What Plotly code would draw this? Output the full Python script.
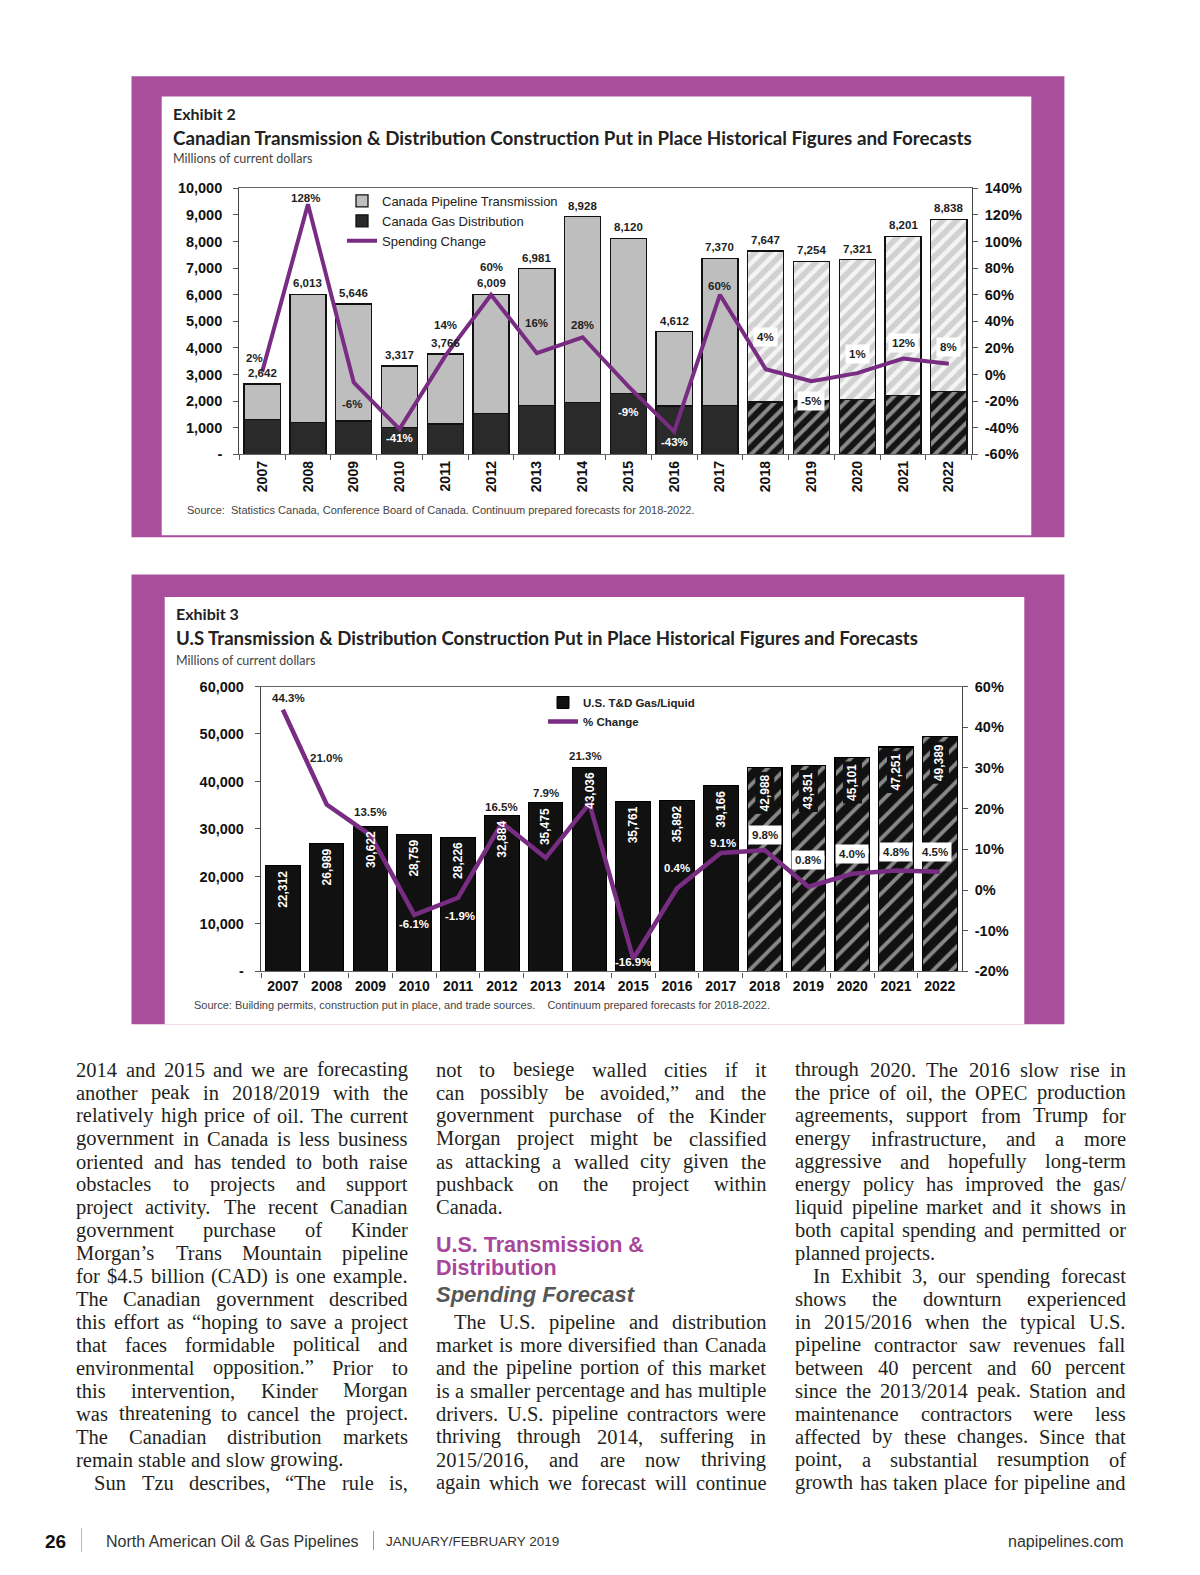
import plotly.graph_objects as go

W, H = 1200, 1575
def px(x): return x / W
def py(y): return 1 - y / H

# ---------------- data ----------------
years = ["2007", "2008", "2009", "2010", "2011", "2012", "2013", "2014",
         "2015", "2016", "2017", "2018", "2019", "2020", "2021", "2022"]
is_forecast = [False] * 11 + [True] * 5

# Exhibit 2 - Canada (millions of current dollars)
ca_total = [2642, 6013, 5646, 3317, 3766, 6009, 6981, 8928,
            8120, 4612, 7370, 7647, 7254, 7321, 8201, 8838]
ca_gas = [1300, 1200, 1250, 1000, 1140, 1530, 1840, 1950,
          2280, 1820, 1840, 1970, 2000, 2070, 2220, 2350]
ca_change = [2, 128, -6, -41, 14, 60, 16, 28, -9, -43, 60, 4, -5, 1, 12, 8]

ca_left_ticks = [0, 1000, 2000, 3000, 4000, 5000, 6000, 7000, 8000, 9000, 10000]
ca_left_text = ["-", "1,000", "2,000", "3,000", "4,000", "5,000", "6,000",
                "7,000", "8,000", "9,000", "10,000"]
ca_right_ticks = [-60, -40, -20, 0, 20, 40, 60, 80, 100, 120, 140]
ca_right_text = ["-60%", "-40%", "-20%", "0%", "20%", "40%", "60%", "80%",
                 "100%", "120%", "140%"]

# Exhibit 3 - U.S.
us_total = [22312, 26989, 30622, 28759, 28226, 32884, 35475, 43036,
            35761, 35892, 39166, 42988, 43351, 45101, 47251, 49389]
us_change = [44.3, 21.0, 13.5, -6.1, -1.9, 16.5, 7.9, 21.3,
             -16.9, 0.4, 9.1, 9.8, 0.8, 4.0, 4.8, 4.5]

us_left_ticks = [0, 10000, 20000, 30000, 40000, 50000, 60000]
us_left_text = ["-", "10,000", "20,000", "30,000", "40,000", "50,000", "60,000"]
us_right_ticks = [-20, -10, 0, 10, 20, 30, 40, 50]
us_right_text = ["-20%", "-10%", "0%", "10%", "20%", "30%", "40%", "60%"]

# label placement (pixel offsets) and styles
ca_pct_shift = [(-8, 14), (-2, 6), (-2, -22), (0, -9), (0, 31), (0, 28), (0, 30), (0, 12),
                (0, -26), (0, -10), (0, 9), (0, 32), (0, -20), (0, 19), (0, 16), (0, 17)]
ca_pct_style = ["plain", "plain", "plain", "dark", "plain", "plain", "plain", "plain",
                "dark", "dark", "plain", "box", "box", "box", "box", "box"]
us_pct_shift = [(6, 12), (0, 47), (0, 23), (0, -9), (2, -18), (0, 16), (0, 65), (-4, 47),
                (0, -3), (0, 20), (2, 10), (0, 15), (0, 27), (0, 20), (0, 18), (-5, 20)]
us_pct_style = ["plain", "plain", "plain", "dark", "dark", "plain", "plain", "plain",
                "dark", "dark", "dark", "box", "box", "box", "box", "box"]

# ---------------- body text ----------------
col1 = [
    ("2014 and 2015 and we are forecasting", "j"),
    ("another peak in 2018/2019 with the", "j"),
    ("relatively high price of oil. The current", "j"),
    ("government in Canada is less business", "j"),
    ("oriented and has tended to both raise", "j"),
    ("obstacles to projects and support", "j"),
    ("project activity. The recent Canadian", "j"),
    ("government purchase of Kinder", "j"),
    ("Morgan’s Trans Mountain pipeline", "j"),
    ("for $4.5 billion (CAD) is one example.", "j"),
    ("The Canadian government described", "j"),
    ("this effort as “hoping to save a project", "j"),
    ("that faces formidable political and", "j"),
    ("environmental opposition.” Prior to", "j"),
    ("this intervention, Kinder Morgan", "j"),
    ("was threatening to cancel the project.", "j"),
    ("The Canadian distribution markets", "j"),
    ("remain stable and slow growing.", "l"),
    ("Sun Tzu describes, “The rule is,", "ij"),
]
col2a = [
    ("not to besiege walled cities if it", "j"),
    ("can possibly be avoided,” and the", "j"),
    ("government purchase of the Kinder", "j"),
    ("Morgan project might be classified", "j"),
    ("as attacking a walled city given the", "j"),
    ("pushback on the project within", "j"),
    ("Canada.", "l"),
]
col2b = [
    ("The U.S. pipeline and distribution", "ij"),
    ("market is more diversified than Canada", "j"),
    ("and the pipeline portion of this market", "j"),
    ("is a smaller percentage and has multiple", "j"),
    ("drivers. U.S. pipeline contractors were", "j"),
    ("thriving through 2014, suffering in", "j"),
    ("2015/2016, and are now thriving", "j"),
    ("again which we forecast will continue", "j"),
]
col3 = [
    ("through 2020. The 2016 slow rise in", "j"),
    ("the price of oil, the OPEC production", "j"),
    ("agreements, support from Trump for", "j"),
    ("energy infrastructure, and a more", "j"),
    ("aggressive and hopefully long-term", "j"),
    ("energy policy has improved the gas/", "j"),
    ("liquid pipeline market and it shows in", "j"),
    ("both capital spending and permitted or", "j"),
    ("planned projects.", "l"),
    ("In Exhibit 3, our spending forecast", "ij"),
    ("shows the downturn experienced", "j"),
    ("in 2015/2016 when the typical U.S.", "j"),
    ("pipeline contractor saw revenues fall", "j"),
    ("between 40 percent and 60 percent", "j"),
    ("since the 2013/2014 peak. Station and", "j"),
    ("maintenance contractors were less", "j"),
    ("affected by these changes. Since that", "j"),
    ("point, a substantial resumption of", "j"),
    ("growth has taken place for pipeline and", "j"),
]

# ---------------- styling ----------------
SANS = "Liberation Sans, Arial, Helvetica, sans-serif"
SERIF = "Liberation Serif, Times New Roman, serif"
TFONT = "Lato, Carlito, Calibri, sans-serif"
FRAME = "#A84E9B"
LINE = "#782C82"
INK = "#1E1E1E"

def hist(vals):
    return [v for v, f in zip(vals, is_forecast) if not f]

def fcst(vals):
    return [v for v, f in zip(vals, is_forecast) if f]

ca_pipe = [t - g for t, g in zip(ca_total, ca_gas)]
idx = list(range(len(years)))  # category positions used by annotations

fig = go.Figure()

OUT = dict(color="#111111", width=1.3)
# Exhibit 2 bars (gas at the bottom of each stack)
fig.add_trace(go.Bar(
    x=hist(years), y=hist(ca_gas), name="Canada Gas Distribution", uid="ca_gas_h",
    xaxis="x", yaxis="y", legend="legend", legendrank=2,
    marker=dict(color="#2A2A2A", line=OUT), hoverinfo="skip"))
fig.add_trace(go.Bar(
    x=fcst(years), y=fcst(ca_gas), name="Canada Gas Distribution (forecast)", uid="ca_gas_f",
    xaxis="x", yaxis="y", legend="legend", showlegend=False,
    marker=dict(color="#141414", line=OUT,
                pattern=dict(shape="/", bgcolor="#141414", fgcolor="#FFFFFF",
                             size=10, solidity=0.4)),
    hoverinfo="skip"))
fig.add_trace(go.Bar(
    x=hist(years), y=hist(ca_pipe), name="Canada Pipeline Transmission", uid="ca_pipe_h",
    xaxis="x", yaxis="y", legend="legend", legendrank=1,
    marker=dict(color="#BEBEBE", line=OUT), hoverinfo="skip"))
fig.add_trace(go.Bar(
    x=fcst(years), y=fcst(ca_pipe), name="Canada Pipeline Transmission (forecast)", uid="ca_pipe_f",
    xaxis="x", yaxis="y", legend="legend", showlegend=False,
    marker=dict(color="#F4F4F4", line=OUT,
                pattern=dict(shape="/", bgcolor="#F4F4F4", fgcolor="#ADADAD",
                             size=10, solidity=0.55)),
    hoverinfo="skip"))
fig.add_trace(go.Scatter(
    x=years, y=ca_change, name="Spending Change", mode="lines", uid="ca_line",
    xaxis="x", yaxis="y2", legend="legend", legendrank=3,
    line=dict(color=LINE, width=4), hoverinfo="skip"))

# Exhibit 3 bars
fig.add_trace(go.Bar(
    x=hist(years), y=hist(us_total), name="U.S. T&D Gas/Liquid", uid="us_h",
    xaxis="x2", yaxis="y3", legend="legend2", legendrank=1,
    marker=dict(color="#111111", line=dict(color="#000000", width=1)), hoverinfo="skip"))
fig.add_trace(go.Bar(
    x=fcst(years), y=fcst(us_total), name="U.S. T&D Gas/Liquid (forecast)", uid="us_f",
    xaxis="x2", yaxis="y3", legend="legend2", showlegend=False,
    marker=dict(color="#111111", line=dict(color="#000000", width=1.2),
                pattern=dict(shape="/", bgcolor="#111111", fgcolor="#FFFFFF",
                             size=13, solidity=0.3)),
    hoverinfo="skip"))
fig.add_trace(go.Scatter(
    x=years, y=us_change, name="% Change", mode="lines", uid="us_line",
    xaxis="x2", yaxis="y4", legend="legend2", legendrank=2,
    line=dict(color=LINE, width=4.5), hoverinfo="skip"))

ann = []

def A(**kw):
    base = dict(showarrow=False, borderpad=0)
    base.update(kw)
    ann.append(base)

# Exhibit 2 value labels
for i, v in zip(idx, ca_total):
    A(x=i, y=v, xref="x", yref="y", yanchor="middle", yshift=11, text=f"{v:,}",
      font=dict(family=SANS, size=11.5, color=INK, weight="bold"))
for i, v, (dx, dy), st in zip(idx, ca_change, ca_pct_shift, ca_pct_style):
    A(x=i, y=v, xref="x", yref="y2", yanchor="middle", xshift=dx, yshift=dy,
      text=f"{v}%",
      font=dict(family=SANS, size=11.5, weight="bold",
                color="#FFFFFF" if st == "dark" else INK),
      bgcolor="#FFFFFF" if st == "box" else None, borderpad=3 if st == "box" else 0)

# Exhibit 3 value labels
for i, v, f in zip(idx, us_total, is_forecast):
    A(x=i, y=v, xref="x2", yref="y3", yanchor="top", yshift=-4, textangle=-90,
      text=f"{v:,}", font=dict(family=SANS, size=12, color="#FFFFFF", weight="bold"),
      bgcolor="#111111" if f else None, borderpad=2 if f else 0)
for i, v, (dx, dy), st in zip(idx, us_change, us_pct_shift, us_pct_style):
    A(x=i, y=v, xref="x2", yref="y4", yanchor="middle", xshift=dx, yshift=dy,
      text=f"{v:.1f}%",
      font=dict(family=SANS, size=11.5, weight="bold",
                color="#FFFFFF" if st == "dark" else INK),
      bgcolor="#FFFFFF" if st == "box" else None, borderpad=3 if st == "box" else 0)

# Titles / sources
def P(x, y, text, **font):
    A(x=px(x), y=py(y), xref="paper", yref="paper", xanchor="left", yanchor="middle",
      text=text, font=font)

P(171.5, 113, "Exhibit 2", family=TFONT, size=16, color="#222222", weight="bold")
P(171.5, 138, "Canadian Transmission &amp; Distribution Construction Put in Place Historical Figures and Forecasts",
  family=TFONT, size=18.8, color="#222222", weight="bold")
P(171.5, 159, "Millions of current dollars", family=TFONT, size=12.5, color="#444444")
P(185.5, 510, "Source:&nbsp;&nbsp;Statistics Canada, Conference Board of Canada. Continuum prepared forecasts for 2018-2022.",
  family=SANS, size=11, color="#444444")

P(174.5, 613, "Exhibit 3", family=TFONT, size=16, color="#222222", weight="bold")
P(174.5, 638, "U.S Transmission &amp; Distribution Construction Put in Place Historical Figures and Forecasts",
  family=TFONT, size=18.6, color="#222222", weight="bold")
P(174.5, 660, "Millions of current dollars", family=TFONT, size=12.5, color="#444444")
P(192.5, 1005, "Source: Building permits, construction put in place, and trade sources.&nbsp;&nbsp;&nbsp; Continuum prepared forecasts for 2018-2022.",
  family=SANS, size=11, color="#444444")

# Body text (justified word by word, Times metrics)
TW = {' ': 250, '!': 333, '$': 500, '%': 833, '&': 778, '(': 333, ')': 333, ',': 250,
      '-': 333, '.': 250, '/': 278, ':': 278, ';': 278, '?': 444,
      '’': 333, '‘': 333, '“': 444, '”': 444, "'": 180,
      'A': 722, 'B': 667, 'C': 667, 'D': 722, 'E': 611, 'F': 556, 'G': 722, 'H': 722,
      'I': 333, 'J': 389, 'K': 722, 'L': 611, 'M': 889, 'N': 722, 'O': 722, 'P': 556,
      'Q': 722, 'R': 667, 'S': 556, 'T': 611, 'U': 722, 'V': 722, 'W': 944, 'X': 722,
      'Y': 722, 'Z': 611,
      'a': 444, 'b': 500, 'c': 444, 'd': 500, 'e': 444, 'f': 333, 'g': 500, 'h': 500,
      'i': 278, 'j': 278, 'k': 500, 'l': 278, 'm': 778, 'n': 500, 'o': 500, 'p': 500,
      'q': 500, 'r': 333, 's': 389, 't': 278, 'u': 500, 'v': 500, 'w': 722, 'x': 500,
      'y': 500, 'z': 444}
BODY = 20.5
ROW0, ROWSTEP = 1069.8, 22.93
INDENT = 18

def tw(s):
    return sum(TW.get(c, 500) for c in s) / 1000 * BODY

def esc(s):
    return s.replace("&", "&amp;").replace("$", "&#36;")

def body(lines, left, right, row0):
    for i, (text, mode) in enumerate(lines):
        yy = ROW0 + ROWSTEP * (row0 + i)
        x0 = left + (INDENT if mode == "ij" else 0)
        words = text.split(" ")
        widths = [tw(w) for w in words]
        if mode == "l" or len(words) == 1:
            gap = tw(" ")
        else:
            gap = (right - x0 - sum(widths)) / (len(words) - 1)
        x = x0
        for w, wd in zip(words, widths):
            A(x=px(x), y=py(yy), xref="paper", yref="paper", xanchor="left",
              yanchor="middle", text=esc(w),
              font=dict(family=SERIF, size=BODY, color="#231F20"))
            x += wd + gap

body(col1, 75.3, 406.7, 0)
body(col2a, 434.8, 765.2, 0)
body(col2b, 434.8, 765.2, 11)
body(col3, 794.3, 1124.7, 0)

P(434.8, 1244.5, "U.S. Transmission &amp;", family=SANS, size=21.5, color="#A8469B", weight="bold")
P(434.8, 1267.5, "Distribution", family=SANS, size=21.5, color="#A8469B", weight="bold")
P(434.8, 1294, "Spending Forecast", family=SANS, size=22, color="#575757", weight="bold", style="italic")

# footer
P(44, 1541.5, "26", family=SANS, size=19, color="#111111", weight="bold")
P(105, 1541.5, "North American Oil &amp; Gas Pipelines", family=SANS, size=16, color="#333333")
P(385, 1541.5, "JANUARY/FEBRUARY 2019", family=SANS, size=13.5, color="#333333")
A(x=px(1124.7), y=py(1541.5), xref="paper", yref="paper", xanchor="right", yanchor="middle",
  text="napipelines.com", font=dict(family=SANS, size=16, color="#333333"))

shapes = [
    dict(type="rect", xref="paper", yref="paper", x0=px(131.5), x1=px(1064.4),
         y0=py(537.2), y1=py(76.3), fillcolor=FRAME, line=dict(width=0), layer="below"),
    dict(type="rect", xref="paper", yref="paper", x0=px(161.7), x1=px(1031.3),
         y0=py(535.2), y1=py(96.6), fillcolor="#FFFFFF", line=dict(width=0), layer="below"),
    dict(type="rect", xref="paper", yref="paper", x0=px(131.5), x1=px(1064.4),
         y0=py(1024.3), y1=py(574.4), fillcolor=FRAME, line=dict(width=0), layer="below"),
    dict(type="rect", xref="paper", yref="paper", x0=px(164.7), x1=px(1024.3),
         y0=py(1024.3), y1=py(597), fillcolor="#FFFFFF", line=dict(width=0), layer="below"),
    dict(type="line", xref="paper", yref="paper", x0=px(81.5), x1=px(81.5),
         y0=py(1528), y1=py(1552), line=dict(color="#BBBBBB", width=1)),
    dict(type="line", xref="paper", yref="paper", x0=px(373.5), x1=px(373.5),
         y0=py(1531), y1=py(1550), line=dict(color="#999999", width=1)),
]

axfont = dict(family=SANS, size=14.5, color="#111111", weight="bold")
cat_range = [-0.5, len(years) - 0.5]

fig.update_layout(
    width=W, height=H, autosize=False,
    margin=dict(l=0, r=0, t=0, b=0, pad=0, autoexpand=False),
    paper_bgcolor="#FFFFFF", plot_bgcolor="rgba(0,0,0,0)",
    barmode="stack", bargap=0.21,
    annotations=ann, shapes=shapes,
    showlegend=True,
    legend=dict(x=px(342), y=py(186), xanchor="left", yanchor="top",
                bgcolor="rgba(0,0,0,0)", traceorder="normal", tracegroupgap=0,
                font=dict(family=SANS, size=13, color="#222222")),
    legend2=dict(x=px(543), y=py(688), xanchor="left", yanchor="top",
                 bgcolor="rgba(0,0,0,0)", traceorder="normal", tracegroupgap=0,
                 font=dict(family=SANS, size=11.5, color="#222222", weight="bold")),
    xaxis=dict(domain=[px(239.3), px(971.7)], anchor="y", type="category",
               categoryorder="array", categoryarray=years, range=cat_range,
               tickangle=-90, tickfont=dict(family=SANS, size=14, color="#111111", weight="bold"),
               ticks="outside", tickson="boundaries", ticklen=5, tickcolor="#555555",
               showline=True, mirror=True, linecolor="#666666", linewidth=1.3,
               showgrid=False, zeroline=False, fixedrange=True),
    yaxis=dict(domain=[py(454.3), py(188.3)], anchor="x", range=[0, 10000],
               tickvals=ca_left_ticks, ticktext=ca_left_text, tickfont=axfont,
               ticks="outside", ticklen=5, tickcolor="#555555", ticklabelstandoff=8,
               showline=True, linecolor="#444444", linewidth=1.3,
               showgrid=False, zeroline=False, fixedrange=True),
    yaxis2=dict(overlaying="y", side="right", anchor="x", range=[-60, 140],
                tickvals=ca_right_ticks, ticktext=ca_right_text, tickfont=axfont,
                ticks="outside", ticklen=5, tickcolor="#555555", ticklabelstandoff=4,
                showline=True, linecolor="#444444", linewidth=1.3,
                showgrid=False, zeroline=False, fixedrange=True),
    xaxis2=dict(domain=[px(261), px(961.7)], anchor="y3", type="category",
                categoryorder="array", categoryarray=years, range=cat_range,
                tickangle=0, tickfont=dict(family=SANS, size=14, color="#111111", weight="bold"),
                ticks="outside", tickson="boundaries", ticklen=5, tickcolor="#555555",
                ticklabelstandoff=2,
                showline=True, mirror=True, linecolor="#666666", linewidth=1.3,
                showgrid=False, zeroline=False, fixedrange=True),
    yaxis3=dict(domain=[py(971.4), py(686.5)], anchor="x2", range=[0, 60000],
                tickvals=us_left_ticks, ticktext=us_left_text, tickfont=axfont,
                ticks="outside", ticklen=5, tickcolor="#555555", ticklabelstandoff=8,
                showline=True, linecolor="#444444", linewidth=1.3,
                showgrid=False, zeroline=False, fixedrange=True),
    yaxis4=dict(overlaying="y3", side="right", anchor="x2", range=[-20, 50],
                tickvals=us_right_ticks, ticktext=us_right_text, tickfont=axfont,
                ticks="outside", ticklen=5, tickcolor="#555555", ticklabelstandoff=4,
                showline=True, linecolor="#444444", linewidth=1.3,
                showgrid=False, zeroline=False, fixedrange=True),
)

fig.write_html("out.html", config={"displayModeBar": False},
               post_script="document.body.style.margin='0px';")
